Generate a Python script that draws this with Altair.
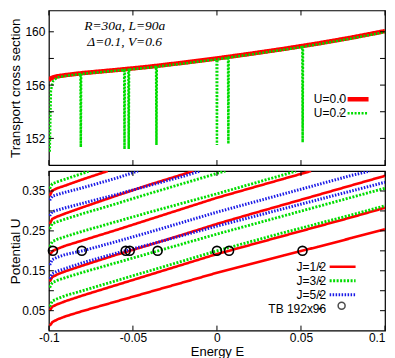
import altair as alt
import pandas as pd

# ---------------- top panel: transport cross section ----------------
TOP_SERIES = ["U=0.0", "U=0.2"]
E_U00 = [-0.1, -0.099, -0.097, -0.095, -0.09, -0.08, -0.06, -0.04, -0.02, 0.0,
         0.02, 0.04, 0.06, 0.08, 0.1]
S_U00 = [156.35, 156.5, 156.6, 156.66, 156.75, 156.9, 157.13, 157.38, 157.68, 158.0,
         158.35, 158.72, 159.12, 159.56, 160.05]
E_U02 = [-0.0995, -0.0988, -0.0975, -0.095, -0.09, -0.0812, -0.081, -0.0808,
         -0.0552, -0.055, -0.0548, -0.0527, -0.0525, -0.0523, -0.0362, -0.036, -0.0358,
         -0.02, -0.0002, 0.0, 0.0002, 0.0066, 0.0068, 0.007, 0.02, 0.04,
         0.0508, 0.051, 0.0512, 0.06, 0.08, 0.1]
S_U02 = [151.0, 155.6, 156.3, 156.58, 156.69, 156.84, 151.35, 156.84,
         157.14, 151.2, 157.14, 157.16, 151.2, 157.17, 157.37, 151.5, 157.38,
         157.62, 157.93, 151.5, 157.94, 158.05, 151.6, 158.06, 158.29, 158.66,
         158.87, 151.7, 158.88, 159.06, 159.5, 159.98]
NOTE_E = [-0.0549, -0.0549]
NOTE_S = [160.47, 159.27]
NOTE_TXT = ["R=30a, L=90a", "Δ=0.1, V=0.6"]

# ---------------- bottom panel: potential U vs energy E ----------------
J_LABELS = ["J=1/2", "J=3/2", "J=5/2"]
E_FULL = [-0.0995, -0.098, -0.095, -0.09, -0.08, -0.06, -0.04, -0.02, 0.0,
          0.02, 0.04, 0.06, 0.08, 0.1]
J12_1_U = [0.012, 0.021, 0.028, 0.036, 0.049, 0.073, 0.097, 0.121, 0.145, 0.167, 0.189, 0.21, 0.232, 0.254]
J12_2_U = [0.05, 0.06, 0.066, 0.074, 0.088, 0.114, 0.14, 0.166, 0.192, 0.215, 0.238, 0.261, 0.284, 0.308]
J32_1_U = [0.06, 0.074, 0.08, 0.088, 0.1, 0.125, 0.15, 0.175, 0.2, 0.223, 0.246, 0.268, 0.29, 0.313]
J32_2_U = [0.108, 0.12, 0.126, 0.133, 0.146, 0.17, 0.194, 0.218, 0.242, 0.265, 0.288, 0.311, 0.334, 0.357]
J12_3_U = [0.123, 0.134, 0.141, 0.149, 0.163, 0.19, 0.215, 0.241, 0.2675, 0.292, 0.316, 0.34, 0.364, 0.388]
J52_1_U = [0.13, 0.143, 0.149, 0.156, 0.17, 0.194, 0.216, 0.239, 0.262, 0.284, 0.306, 0.328, 0.35, 0.372]
J52_2_E = [-0.0995, -0.098, -0.095, -0.09, -0.08, -0.06, -0.04, -0.02, 0.0, 0.02, 0.04, 0.06, 0.08, 0.091]
J52_2_U = [0.165, 0.178, 0.184, 0.191, 0.2, 0.223, 0.247, 0.272, 0.297, 0.32, 0.343, 0.366, 0.389, 0.4]
J12_4_E = [-0.0995, -0.0976, -0.095, -0.09, -0.08, -0.06, -0.04, -0.02, 0.0, 0.02, 0.04, 0.056]
J12_4_U = [0.19, 0.2, 0.205, 0.213, 0.226, 0.252, 0.279, 0.306, 0.333, 0.357, 0.381, 0.4]
J32_3_E = [-0.0995, -0.098, -0.095, -0.09, -0.08, -0.06, -0.04, -0.02, 0.0, 0.02, 0.04, 0.047]
J32_3_U = [0.21, 0.223, 0.229, 0.236, 0.249, 0.273, 0.297, 0.32, 0.343, 0.367, 0.391, 0.4]
J32_4_E = [-0.0995, -0.098, -0.095, -0.09, -0.08, -0.06, -0.04, -0.02, 0.0, 0.005]
J32_4_U = [0.255, 0.268, 0.273, 0.28, 0.293, 0.318, 0.344, 0.369, 0.394, 0.4]
J12_5_E = [-0.0995, -0.098, -0.095, -0.09, -0.08, -0.06, -0.04, -0.02, -0.014]
J12_5_U = [0.267, 0.28, 0.286, 0.294, 0.309, 0.338, 0.366, 0.392, 0.4]
J52_3_E = [-0.0995, -0.098, -0.095, -0.09, -0.08, -0.06, -0.04, -0.02, -0.01]
J52_3_U = [0.288, 0.298, 0.302, 0.308, 0.319, 0.341, 0.364, 0.387, 0.4]
J52_4_E = [-0.0995, -0.098, -0.095, -0.09, -0.08, -0.06, -0.047]
J52_4_U = [0.327, 0.337, 0.341, 0.347, 0.358, 0.382, 0.4]
J12_6_E = [-0.0995, -0.098, -0.095, -0.09, -0.08, -0.065]
J12_6_U = [0.338, 0.351, 0.357, 0.364, 0.379, 0.4]
J32_5_E = [-0.0995, -0.098, -0.095, -0.09, -0.08, -0.076]
J32_5_U = [0.356, 0.368, 0.373, 0.38, 0.394, 0.4]

TB_LABEL = "TB 192x96"
TB_E = [-0.0976, -0.0804, -0.0543, -0.0519, -0.0353, 0.0, 0.0072, 0.0509]
TB_U = [0.2, 0.2, 0.2, 0.2, 0.2, 0.2, 0.2, 0.2]

X_TICKS = [-0.1, -0.05, 0.0, 0.05, 0.1]
Y_TOP_TICKS = [152, 154, 156, 158, 160]
Y_BOT_TICKS = [0.05, 0.1, 0.15, 0.2, 0.25, 0.3, 0.35]

RED, GREEN, BLUE = "#ff0000", "#00dd00", "#1a1ae6"

# ---------------- tables ----------------
rows = []
for name, es, ss in [(TOP_SERIES[0], E_U00, S_U00), (TOP_SERIES[1], E_U02, S_U02)]:
    for i, (e, s) in enumerate(zip(es, ss)):
        rows.append({"E": e, "S": s, "series": name, "lbl": name, "idx": i})
top_df = pd.DataFrame(rows)
note_df = pd.DataFrame({"E": NOTE_E, "S": NOTE_S, "txt": NOTE_TXT})

curves = [
    ("J=1/2", "r1", E_FULL, J12_1_U), ("J=1/2", "r2", E_FULL, J12_2_U),
    ("J=1/2", "r3", E_FULL, J12_3_U), ("J=1/2", "r4", J12_4_E, J12_4_U),
    ("J=1/2", "r5", J12_5_E, J12_5_U), ("J=1/2", "r6", J12_6_E, J12_6_U),
    ("J=3/2", "g1", E_FULL, J32_1_U), ("J=3/2", "g2", E_FULL, J32_2_U),
    ("J=3/2", "g3", J32_3_E, J32_3_U), ("J=3/2", "g4", J32_4_E, J32_4_U),
    ("J=3/2", "g5", J32_5_E, J32_5_U),
    ("J=5/2", "b1", E_FULL, J52_1_U), ("J=5/2", "b2", J52_2_E, J52_2_U),
    ("J=5/2", "b3", J52_3_E, J52_3_U), ("J=5/2", "b4", J52_4_E, J52_4_U),
]
rows = []
for lab, cid, es, us in curves:
    for i, (e, u) in enumerate(zip(es, us)):
        rows.append({"E": e, "U": u, "J": lab, "lbl": lab, "curve": cid, "idx": i})
bot_df = pd.DataFrame(rows)
tb_df = pd.DataFrame({"E": TB_E, "U": TB_U, "src": [TB_LABEL] * len(TB_E),
                      "lbl": [TB_LABEL] * len(TB_E)})
BOT_LBLS = J_LABELS + [TB_LABEL]

# ---------------- layout constants ----------------
W = 337
H_TOP = 155
H_BOT = 160
TL = 5
SANS = "Liberation Sans"
SERIF = "Liberation Serif"

x_scale = alt.Scale(domain=[-0.1, 0.1], nice=False, zero=False)
yt_scale = alt.Scale(domain=[150, 161.6], nice=False, zero=False)
yb_scale = alt.Scale(domain=[0, 0.4], nice=False, zero=False)

xt_df = pd.DataFrame({"E": X_TICKS})
ytt_df = pd.DataFrame({"S": Y_TOP_TICKS})
ybt_df = pd.DataFrame({"U": Y_BOT_TICKS})


def x_ticks(h, show_axis):
    base = alt.Chart(xt_df).mark_rule(color="black", strokeWidth=1)
    xe = alt.X("E:Q", scale=x_scale) if show_axis else alt.X("E:Q", scale=x_scale, axis=None)
    return [base.encode(x=xe, y=alt.value(0), y2=alt.value(TL)),
            base.encode(x=xe, y=alt.value(h), y2=alt.value(h - TL))]


def y_ticks(df, field, scale):
    base = alt.Chart(df).mark_rule(color="black", strokeWidth=1)
    ye = alt.Y(f"{field}:Q", scale=scale)
    return [base.encode(y=ye, x=alt.value(0), x2=alt.value(TL)),
            base.encode(y=ye, x=alt.value(W - TL), x2=alt.value(W))]


def sym_legend(x, y, size, row_pad, **kw):
    # symbols only: labels emptied so they take no room
    return alt.Legend(title=None, orient="none", legendX=x, legendY=y,
                      symbolSize=size, clipHeight=13, rowPadding=row_pad,
                      labelExpr="''", labelFontSize=12, padding=0, **kw)


def lbl_legend(right, y, row_pad):
    # labels only, right-aligned so they end just left of the symbols
    return alt.Legend(title=None, orient="none", legendX=right - 12, legendY=y,
                      symbolSize=1, symbolOpacity=0, symbolType="circle",
                      clipHeight=13, rowPadding=row_pad, labelAlign="right",
                      labelOffset=0, labelFont=SANS, labelFontSize=12,
                      labelColor="black", padding=0)


# ---------------- top panel ----------------
leg_top = sym_legend(297, 82.5, 441, 1, symbolType="stroke")
top_lines = alt.Chart(top_df).mark_line(clip=True).encode(
    x=alt.X("E:Q", scale=x_scale, axis=None),
    y=alt.Y("S:Q", scale=yt_scale,
            axis=alt.Axis(values=Y_TOP_TICKS, title="Transport cross section",
                          titleX=-26, labelPadding=4)),
    color=alt.Color("series:N", scale=alt.Scale(domain=TOP_SERIES, range=[RED, GREEN]),
                    legend=leg_top),
    strokeDash=alt.StrokeDash("series:N",
                              scale=alt.Scale(domain=TOP_SERIES, range=[[1, 0], [2, 1.5]]),
                              legend=leg_top),
    strokeWidth=alt.StrokeWidth("series:N",
                                scale=alt.Scale(domain=TOP_SERIES, range=[4.5, 2.5]),
                                legend=leg_top),
    opacity=alt.Opacity("lbl:O", scale=alt.Scale(range=[1, 1]),
                        legend=lbl_legend(298, 82.5, 1)),
    detail="series:N",
    order="idx:Q",
)
top_note = alt.Chart(note_df).mark_text(font=SERIF, fontStyle="italic", fontSize=13.5,
                                        color="black").encode(
    x=alt.X("E:Q", scale=x_scale, axis=None),
    y=alt.Y("S:Q", scale=yt_scale),
    text="txt:N",
)
top = alt.layer(top_lines, top_note, *x_ticks(H_TOP, False),
                *y_ticks(ytt_df, "S", yt_scale)).properties(width=W, height=H_TOP)

# ---------------- bottom panel ----------------
leg_bot = sym_legend(280, 89.5, 676, 1, symbolType="stroke")
lbl_bot = lbl_legend(278, 89.5, 1)
bot_lines = alt.Chart(bot_df).mark_line(clip=True).encode(
    x=alt.X("E:Q", scale=x_scale,
            axis=alt.Axis(values=X_TICKS, title="Energy E", labelExpr="'' + datum.value",
                          labelPadding=2, titleY=15, titleFontSize=13, labelFlush=False,
                          labelAlign={"expr": "datum.value > 0.09 ? 'right' : 'center'"})),
    y=alt.Y("U:Q", scale=yb_scale,
            axis=alt.Axis(values=Y_BOT_TICKS, format=".2f", title="Potential U",
                          titleX=-26, labelPadding=4)),
    color=alt.Color("J:N", scale=alt.Scale(domain=J_LABELS, range=[RED, GREEN, BLUE]),
                    legend=leg_bot),
    strokeDash=alt.StrokeDash("J:N",
                              scale=alt.Scale(domain=J_LABELS,
                                              range=[[1, 0], [2, 1.5], [1.5, 1.5]]),
                              legend=leg_bot),
    strokeWidth=alt.StrokeWidth("J:N", scale=alt.Scale(domain=J_LABELS, range=[2.6, 3, 2]),
                                legend=leg_bot),
    opacity=alt.Opacity("lbl:O", scale=alt.Scale(domain=BOT_LBLS, range=[1, 1, 1, 1]),
                        legend=lbl_bot),
    detail="curve:N",
    order="idx:Q",
)
leg_tb = sym_legend(287.5, 128.5, 49, 1, symbolStrokeColor="black",
                    symbolFillColor="transparent", symbolStrokeWidth=1.5)
bot_pts = alt.Chart(tb_df).mark_point(filled=False, color="black", size=81,
                                      strokeWidth=1.6).encode(
    x=alt.X("E:Q", scale=x_scale),
    y=alt.Y("U:Q", scale=yb_scale),
    shape=alt.Shape("src:N", scale=alt.Scale(domain=[TB_LABEL], range=["circle"]),
                    legend=leg_tb),
    opacity=alt.Opacity("lbl:O", scale=alt.Scale(domain=BOT_LBLS, range=[1, 1, 1, 1]),
                        legend=lbl_bot),
)
bottom = alt.layer(bot_lines, bot_pts, *x_ticks(H_BOT, True),
                   *y_ticks(ybt_df, "U", yb_scale)).properties(width=W, height=H_BOT)

chart = alt.vconcat(top, bottom, spacing=2).resolve_scale(
    color="independent", strokeDash="independent", strokeWidth="independent",
    shape="independent", opacity="independent"
).properties(
    padding={"left": 0, "top": 0, "right": 0, "bottom": 5}
).configure_view(
    stroke="black", strokeWidth=1.2
).configure_axis(
    grid=False, ticks=False, domain=False, labelFont=SANS, titleFont=SANS,
    labelFontSize=12, titleFontSize=13.5, titleFontWeight="normal",
    labelColor="black", titleColor="black"
)

chart.save("out.html", embed_options={"renderer": "svg", "actions": False})
